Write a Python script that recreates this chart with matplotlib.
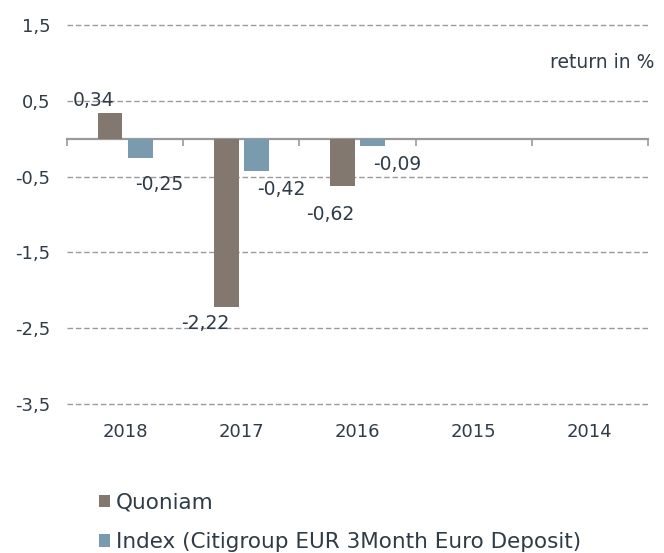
import matplotlib
matplotlib.use("Agg")
import matplotlib.pyplot as plt
import numpy as np

# data
years = ["2018", "2017", "2016", "2015", "2014"]
quoniam = [0.34, -2.22, -0.62, np.nan, np.nan]
index = [-0.25, -0.42, -0.09, np.nan, np.nan]
series_names = ["Quoniam", "Index (Citigroup EUR 3Month Euro Deposit)"]
y_ticks = [1.5, 0.5, -0.5, -1.5, -2.5, -3.5]

# label offsets in points (dx, dy) from the bar end
quoniam_offsets = [(-12, 9), (-15, -12), (-9, -21), None, None]
index_offsets = [(14, -19), (18, -14), (18, -14), None, None]

brown = "#837870"
blue = "#7a9aae"
text_col = "#2f3b47"
grid_col = "#9a9a9a"

plt.rcParams["font.family"] = "DejaVu Sans"

fig = plt.figure(figsize=(6.64, 5.53), dpi=100)
ax = fig.add_axes([67 / 664, 1 - 404 / 553, 581 / 664, 379 / 553])

x = np.arange(len(years))
w = 0.215
off = 0.13
b1 = ax.bar(x - off, quoniam, w, color=brown, label=series_names[0], zorder=3)
b2 = ax.bar(x + off, index, w, color=blue, label=series_names[1], zorder=3)

# value labels
for xs, vals, offs in [(x - off, quoniam, quoniam_offsets), (x + off, index, index_offsets)]:
    for xi, v, o in zip(xs, vals, offs):
        if np.isnan(v):
            continue
        ax.annotate(f"{v:.2f}".replace(".", ","), (xi, v), xytext=o,
                    textcoords="offset points", ha="center", va="center",
                    fontsize=13.5, color=text_col, zorder=4)

ax.set_xlim(-0.5, len(years) - 0.5)
ax.set_ylim(-3.5, 1.5)

# dashed grid lines
for yt in y_ticks:
    ax.axhline(yt, color=grid_col, lw=1, ls=(0, (4, 2)), clip_on=False, zorder=1)

# zero axis line with category separators
for s in ["top", "right", "left"]:
    ax.spines[s].set_visible(False)
ax.spines["bottom"].set_position(("data", 0))
ax.spines["bottom"].set_color(grid_col)
ax.spines["bottom"].set_linewidth(1.6)
ax.spines["bottom"].set_zorder(2)
ax.set_xticks([])
ax.set_xticks(np.arange(-0.5, len(years)), minor=True)
ax.tick_params(axis="x", which="minor", length=5, width=1.2, color=grid_col,
               direction="out", labelbottom=False)

ax.set_yticks(y_ticks)
ax.set_yticklabels([f"{t:.1f}".replace(".", ",") for t in y_ticks])
ax.tick_params(axis="y", length=0, pad=12, labelsize=13, labelcolor=text_col)

# category labels at the bottom
sec = ax.secondary_xaxis(0)
sec.set_xticks(x)
sec.set_xticklabels(years)
sec.spines["bottom"].set_visible(False)
sec.tick_params(length=0, pad=14, labelsize=13, labelcolor=text_col)

fig.text(654 / 664, 1 - 62 / 553, "return in %", ha="right", va="center",
         fontsize=13.5, color=text_col)

fig.legend(handles=[b1, b2], loc="upper left",
           bbox_to_anchor=(90 / 664, 1 - 484 / 553), frameon=False,
           fontsize=15.5, handlelength=0.55, handleheight=0.55, handletextpad=0.25,
           labelspacing=0.9, labelcolor=text_col, borderaxespad=0)

fig.savefig("out.png", dpi=100, facecolor="white")
